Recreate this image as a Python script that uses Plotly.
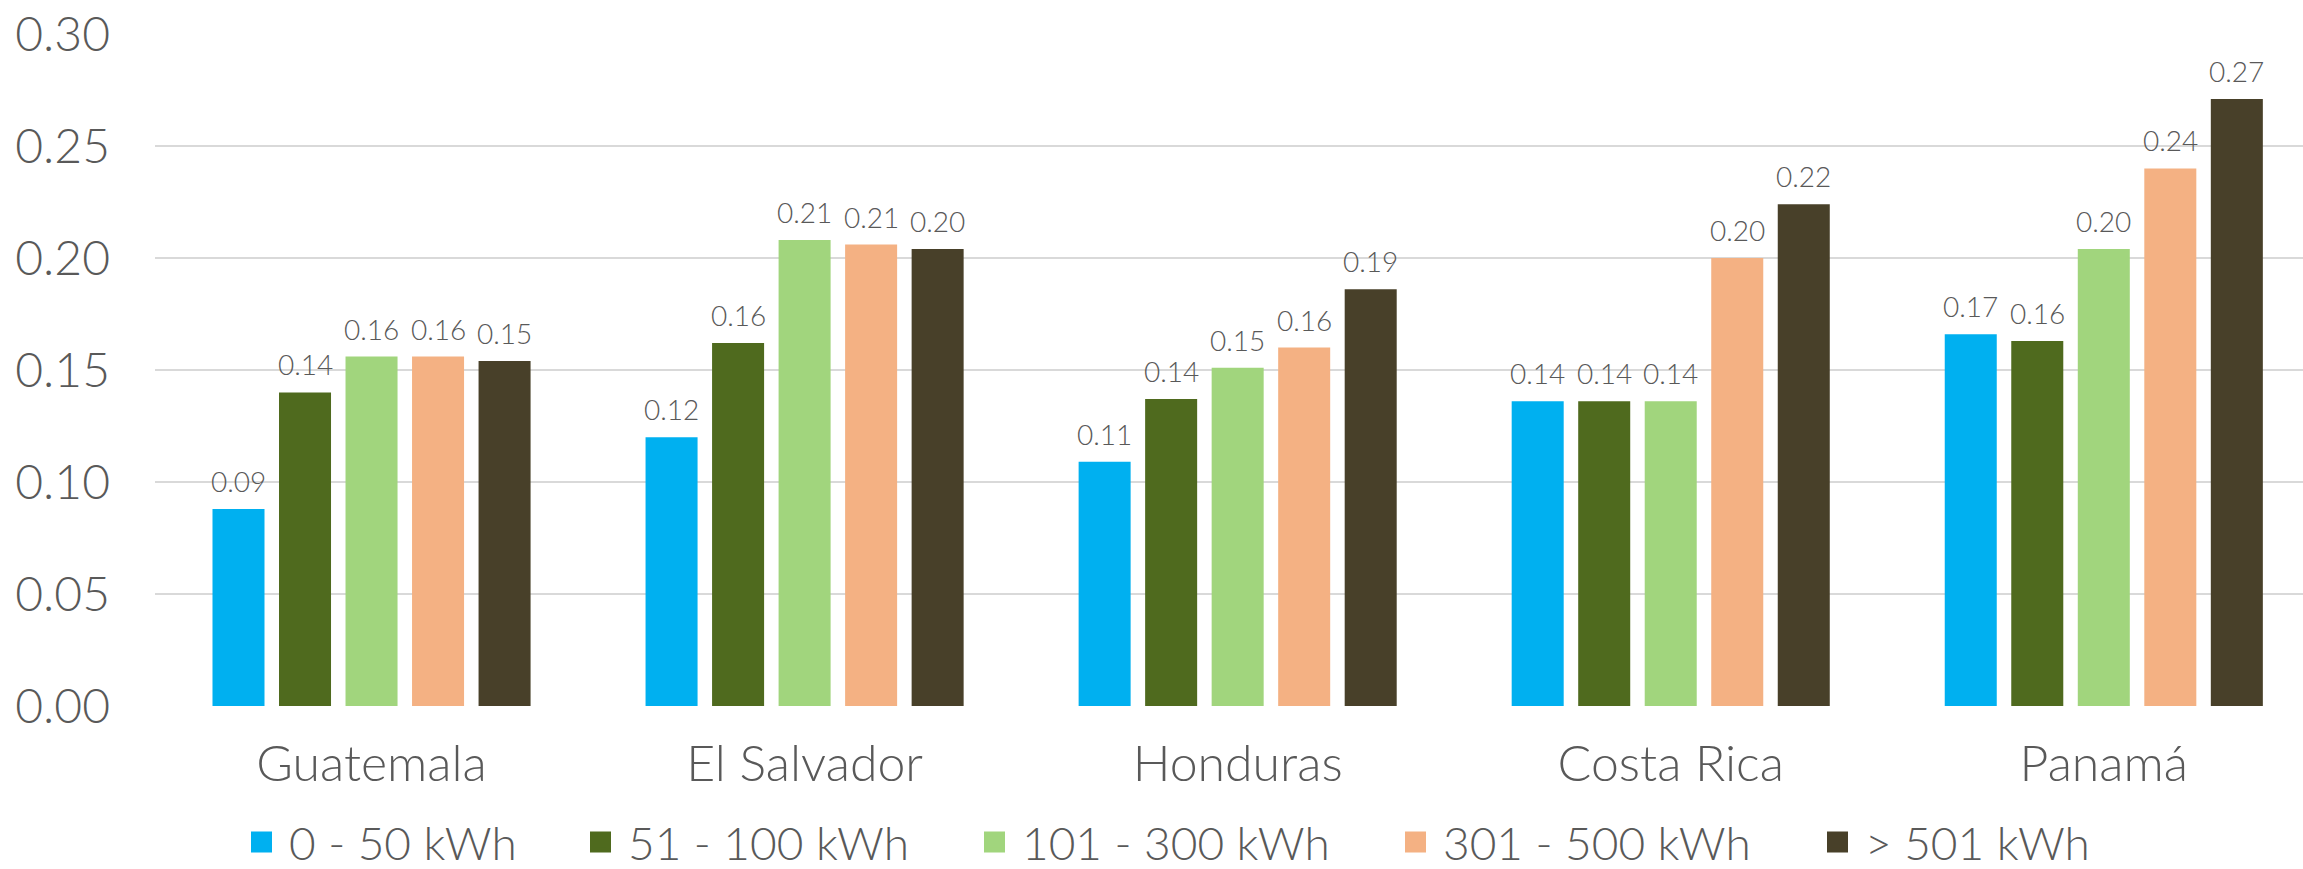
import plotly.graph_objects as go

countries = ["Guatemala", "El Salvador", "Honduras", "Costa Rica", "Panamá"]
series_names = ["0 - 50 kWh", "51 - 100 kWh", "101 - 300 kWh", "301 - 500 kWh", "> 501 kWh"]
colors = ["#00B0F0", "#4F6A1E", "#A1D57D", "#F4B183", "#484029"]

v_0_50 = [0.088, 0.120, 0.109, 0.136, 0.166]
v_51_100 = [0.140, 0.162, 0.137, 0.136, 0.163]
v_101_300 = [0.156, 0.208, 0.151, 0.136, 0.204]
v_301_500 = [0.156, 0.206, 0.160, 0.200, 0.240]
v_501 = [0.154, 0.204, 0.186, 0.224, 0.271]
values = [v_0_50, v_51_100, v_101_300, v_301_500, v_501]

y_ticks = [0.00, 0.05, 0.10, 0.15, 0.20, 0.25, 0.30]

FONT = "Lato"
TXT = "#595959"
W, H = 2303, 869
ML, MR, MT, MB = 155, 0, 34, 163
PW = W - ML - MR
X_RANGE = [-0.5, 4.46]
BARGAP, BARGROUPGAP = 0.232, 0.218

legend_centers_px = [269.5, 608.5, 1002.5, 1423.5, 1845.5]
legend_cy_px = 842
ITEMW = 45
SYM_OFF = 35.5

fig = go.Figure()
for name, col, vals in zip(series_names, colors, values):
    fig.add_trace(go.Bar(
        x=countries, y=vals, name=name, marker=dict(color=col, line=dict(width=0)),
        showlegend=False, cliponaxis=False,
    ))

# value labels above each bar, positioned via data coordinates
cat_px = PW / (X_RANGE[1] - X_RANGE[0])
slot_px = cat_px * (1 - BARGAP) / len(series_names)
annotations = []
for i, vals in enumerate(values):
    dx = (i - (len(series_names) - 1) / 2) * slot_px
    for c, v in zip(countries, vals):
        annotations.append(dict(
            x=c, y=v, xref="x", yref="y", text=f"{v:.2f}", showarrow=False,
            xanchor="center", yanchor="bottom", xshift=dx, yshift=9,
            font=dict(family=FONT, size=28, color=TXT, weight=300),
        ))

for i, (name, col) in enumerate(zip(series_names, colors)):
    lg = "legend" if i == 0 else f"legend{i+1}"
    fig.add_trace(go.Scatter(
        x=[None], y=[None], mode="markers", name=name,
        marker=dict(symbol="square", size=16, color=col, line=dict(color=col, width=5)),
        legend=lg, showlegend=True,
    ))

legend_common = dict(
    orientation="h", xanchor="left", yanchor="middle",
    xref="container", yref="container",
    font=dict(family=FONT, size=46, color=TXT, weight=300),
    bgcolor="rgba(0,0,0,0)", borderwidth=0, itemsizing="trace", itemwidth=ITEMW,
)
layout_legends = {}
for i, cx in enumerate(legend_centers_px):
    lg = "legend" if i == 0 else f"legend{i+1}"
    d = dict(legend_common)
    d["x"] = (cx - SYM_OFF) / W
    d["y"] = 1 - legend_cy_px / H
    layout_legends[lg] = d

fig.update_layout(
    width=W, height=H,
    margin=dict(l=ML, r=MR, t=MT, b=MB, pad=0, autoexpand=False),
    paper_bgcolor="white", plot_bgcolor="white",
    barmode="group", bargap=BARGAP, bargroupgap=BARGROUPGAP,
    font=dict(family=FONT, color=TXT, weight=300),
    annotations=annotations,
    xaxis=dict(
        type="category", range=X_RANGE, automargin=False,
        showgrid=False, showline=False, zeroline=False, ticks="",
        tickfont=dict(family=FONT, size=50, color=TXT, weight=300),
        ticklabelstandoff=24,
    ),
    yaxis=dict(
        range=[0, 0.30], tickvals=y_ticks, tickformat=".2f", automargin=False,
        showgrid=True, gridcolor="#D9D9D9", gridwidth=2,
        zeroline=False, showline=False, ticks="",
        tickfont=dict(family=FONT, size=48, color=TXT, weight=300),
        ticklabelstandoff=44,
    ),
    **layout_legends,
)

fig.write_html(
    "out.html",
    config={"displayModeBar": False},
    post_script="document.body.style.margin='0';document.body.style.overflow='hidden';",
)
